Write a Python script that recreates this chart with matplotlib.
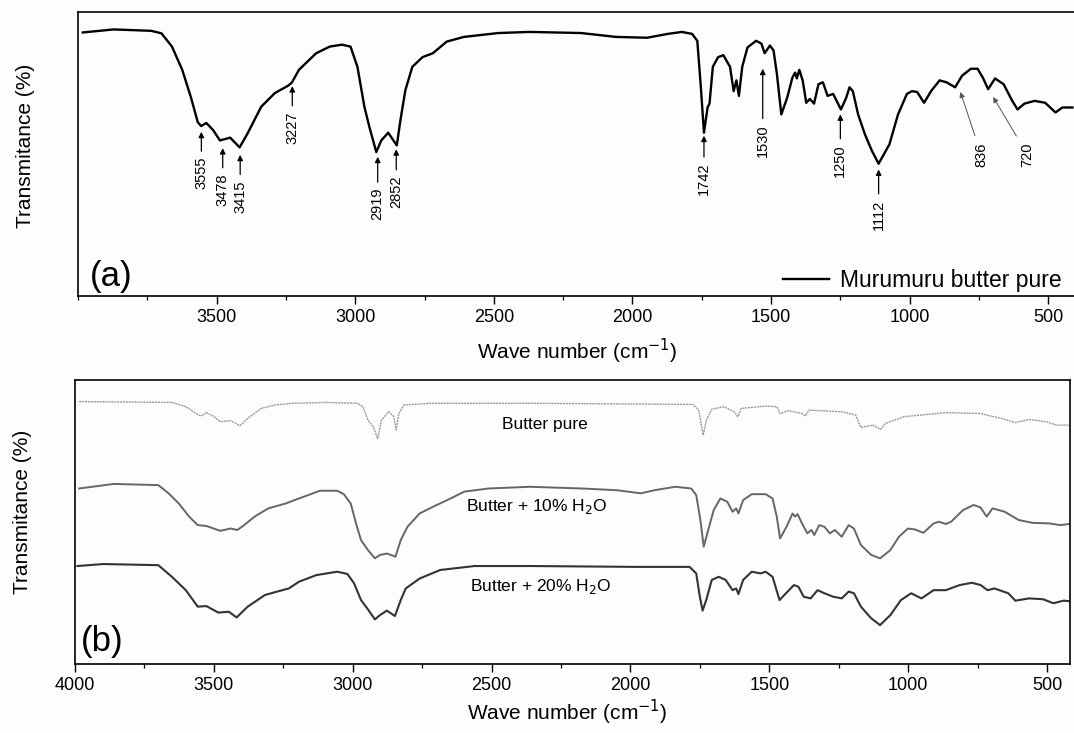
import numpy as np
import matplotlib.pyplot as plt
from matplotlib.ticker import MultipleLocator, FixedLocator

plt.rcParams['font.family'] = ['Liberation Sans', 'DejaVu Sans']

# ---- panel (a): Murumuru butter pure ----
wn_a = [3983, 3872, 3736, 3699, 3661, 3624, 3593, 3568, 3556, 3537, 3513, 3488, 3451, 3417,
        3389, 3339, 3290, 3240, 3228, 3203, 3141, 3092, 3048, 3017, 2992, 2967, 2949, 2924,
        2906, 2881, 2850, 2837, 2819, 2794, 2757, 2720, 2670, 2608, 2484, 2372, 2185, 2060,
        1947, 1872, 1822, 1785, 1766, 1754, 1742, 1729, 1722, 1710, 1691, 1672, 1648, 1635,
        1625, 1616, 1604, 1585, 1554, 1535, 1523, 1504, 1491, 1479, 1463, 1442, 1423, 1413,
        1407, 1398, 1386, 1373, 1360, 1345, 1329, 1313, 1296, 1276, 1248, 1229, 1217, 1205,
        1186, 1161, 1136, 1112, 1073, 1042, 1010, 992, 973, 948, 923, 892, 867, 836, 811,
        779, 755, 736, 717, 692, 661, 630, 611, 586, 549, 511, 474, 449, 413]
T_a = [92.5, 93.6, 93.1, 92.2, 87.4, 79.0, 69.2, 60.1, 58.7, 59.8, 57.3, 53.5, 54.5, 51.0,
       55.9, 65.7, 70.6, 73.4, 74.5, 79.0, 85.0, 87.4, 88.1, 87.4, 80.1, 65.7, 58.4, 49.3,
       53.5, 56.3, 51.7, 60.8, 71.7, 80.1, 83.6, 85.0, 89.2, 90.9, 92.3, 92.7, 92.3, 90.9,
       90.6, 92.0, 92.7, 92.0, 89.5, 73.8, 56.3, 65.4, 66.8, 80.1, 83.6, 84.3, 80.1, 71.3,
       75.2, 69.6, 80.1, 87.1, 89.5, 88.5, 85.0, 87.8, 86.0, 77.6, 62.9, 68.9, 76.2, 78.0,
       75.9, 79.0, 75.2, 67.1, 68.5, 66.8, 73.8, 74.5, 69.6, 70.3, 64.7, 68.9, 72.7, 71.3,
       62.9, 55.6, 49.7, 45.1, 52.1, 62.9, 70.3, 71.3, 71.0, 67.1, 71.3, 75.2, 74.5, 72.7, 76.9,
       79.4, 79.4, 76.2, 72.0, 75.9, 73.8, 67.8, 64.7, 66.8, 67.8, 67.1, 63.6, 65.4, 65.4]

# peak labels: (label, text x, text top, arrow tip x, arrow tip y)
peaks = [('3555', 3555, 47.6, 3555, 56.6), ('3478', 3478, 41.6, 3478, 50.7),
         ('3415', 3415, 39.2, 3415, 48.3), ('3227', 3227, 64.0, 3227, 73.1),
         ('2919', 2919, 36.4, 2919, 47.6), ('2852', 2852, 40.9, 2852, 50.3),
         ('1742', 1742, 45.5, 1742, 55.2), ('1530', 1530, 59.4, 1530, 79.4),
         ('1250', 1250, 52.1, 1250, 62.9), ('1112', 1112, 32.2, 1112, 43.0)]
peaks_diag = [('836', 742, 52.8, 817, 71.0), ('720', 575, 52.8, 699, 69.2)]

# ---- panel (b): pure, +10% and +20% water ----
wn_pure = [3985, 3651, 3601, 3564, 3546, 3527, 3502, 3478, 3440, 3406, 3378, 3329, 3280, 3217,
           3094, 2982, 2963, 2945, 2926, 2910, 2896, 2871, 2852, 2843, 2834, 2815, 2722, 2362,
           1775, 1754, 1738, 1726, 1707, 1663, 1626, 1613, 1601, 1513, 1473, 1461, 1432, 1382,
           1370, 1357, 1239, 1189, 1170, 1126, 1099, 1082, 1014, 864, 739, 702, 664, 614, 564,
           502, 465, 405]
T_pure = [92.4, 92.1, 90.6, 88.2, 87.3, 88.5, 87.3, 85.3, 85.7, 83.9, 86.5, 90.0, 91.2, 91.8,
          92.1, 91.8, 90.6, 85.9, 83.5, 79.4, 85.9, 88.8, 87.1, 82.4, 88.2, 91.2, 91.8, 91.8,
          91.4, 89.4, 80.6, 85.9, 89.7, 90.6, 88.8, 87.1, 90.0, 90.8, 90.6, 88.2, 89.2, 88.2,
          87.3, 89.4, 88.8, 87.7, 83.3, 84.1, 82.6, 84.7, 87.1, 88.5, 88.2, 87.3, 86.5, 85.0, 86.1,
          85.3, 84.1, 84.1]

wn_10 = [3985, 3861, 3700, 3663, 3626, 3589, 3558, 3527, 3477, 3440, 3415, 3391, 3353, 3304,
         3242, 3193, 3118, 3056, 3032, 3007, 2988, 2970, 2945, 2920, 2902, 2877, 2846, 2827,
         2803, 2759, 2710, 2660, 2598, 2511, 2362, 2175, 2050, 1962, 1913, 1838, 1781, 1763,
         1748, 1736, 1723, 1700, 1676, 1651, 1632, 1619, 1611, 1594, 1563, 1513, 1488, 1473,
         1461, 1438, 1416, 1407, 1398, 1382, 1363, 1348, 1338, 1320, 1301, 1282, 1264, 1239,
         1214, 1195, 1170, 1133, 1101, 1064, 1033, 1001, 976, 945, 908, 889, 864, 845, 802,
         764, 739, 717, 696, 652, 602, 552, 490, 452, 405]
T_10 = [61.8, 63.4, 63.0, 60.1, 56.5, 51.9, 48.9, 48.6, 46.9, 47.7, 47.2, 48.9, 51.9, 54.8,
        56.5, 58.3, 61.0, 61.0, 59.8, 56.5, 49.5, 43.6, 40.1, 37.2, 38.4, 38.9, 37.8, 43.6,
        48.3, 53.0, 55.4, 57.7, 60.7, 61.8, 62.4, 61.8, 61.2, 60.1, 61.2, 62.4, 61.8, 59.5,
        50.7, 41.3, 46.0, 54.2, 58.3, 57.1, 53.6, 54.8, 53.0, 57.7, 59.8, 59.8, 58.3, 51.9,
        44.2, 48.3, 53.0, 51.9, 52.8, 49.5, 46.0, 47.2, 45.4, 48.9, 48.3, 46.0, 47.2, 44.8,
        48.9, 47.7, 41.9, 38.4, 37.2, 40.1, 44.8, 47.7, 47.4, 46.2, 49.5, 50.1, 49.3, 50.1, 54.2,
        56.0, 55.1, 51.9, 54.8, 53.6, 50.7, 49.7, 49.5, 48.9, 49.5]

wn_20 = [3991, 3898, 3700, 3651, 3601, 3558, 3527, 3484, 3446, 3418, 3378, 3316, 3242, 3230,
         3193, 3131, 3056, 3019, 2995, 2970, 2945, 2920, 2902, 2877, 2848, 2827, 2809, 2759,
         2685, 2561, 2362, 1988, 1787, 1763, 1750, 1740, 1727, 1707, 1682, 1657, 1632, 1619,
         1611, 1594, 1563, 1531, 1513, 1488, 1463, 1438, 1411, 1395, 1376, 1351, 1326, 1301,
         1270, 1239, 1214, 1195, 1170, 1133, 1101, 1064, 1026, 989, 952, 908, 864, 814, 770,
         739, 714, 689, 639, 614, 564, 514, 477, 440, 405]
T_20 = [34.5, 35.2, 34.8, 30.7, 26.0, 20.2, 20.4, 18.1, 18.4, 16.4, 20.2, 24.3, 26.3, 26.6,
        29.0, 31.3, 32.5, 31.7, 28.4, 22.5, 19.2, 15.7, 17.2, 18.8, 16.9, 22.5, 26.6, 30.1,
        33.1, 34.5, 34.5, 34.2, 34.2, 31.9, 23.7, 18.8, 22.5, 29.6, 30.7, 29.6, 26.0, 26.6,
        24.6, 29.6, 32.5, 31.9, 32.5, 30.7, 22.5, 25.1, 27.8, 27.2, 23.7, 23.1, 26.0, 24.9,
        23.7, 23.1, 25.5, 24.9, 20.2, 16.1, 13.7, 17.2, 22.5, 24.9, 23.1, 26.0, 26.0, 27.8, 28.6,
        27.8, 26.0, 26.6, 24.9, 22.3, 23.1, 22.8, 21.4, 22.3, 22.0]

W, H = 1074, 733
fig = plt.figure(figsize=(W / 100, H / 100), dpi=100)
fig.patch.set_facecolor('#fdfdfd')


def px(x, y):
    # pixel position (from top-left) -> figure fraction
    return x / W, 1 - y / H


def style_axis(ax, first_major):
    ax.xaxis.set_major_locator(FixedLocator(np.arange(first_major, 499, -500)))
    ax.xaxis.set_minor_locator(MultipleLocator(250))
    ax.tick_params(axis='x', which='major', direction='out', length=5.5, width=1.0,
                   labelsize=13, pad=4, top=False)
    ax.tick_params(axis='x', which='minor', direction='out', length=3, width=0.9, top=False)
    ax.set_yticks([])
    for s in ax.spines.values():
        s.set_linewidth(1.2)
    ax.set_facecolor('none')


# panel (a)
ax1 = fig.add_axes([78 / W, 437 / H, 998 / W, 284 / H])
ax1.plot(wn_a, T_a, color='k', lw=1.7, label='Murumuru butter pure')
ax1.set_xlim(4000, 400)
ax1.set_ylim(-2.7, 99.9)
style_axis(ax1, 3500)
for lab, xt, yt, xp, yp in peaks:
    ax1.annotate(lab, xy=(xp, yp), xytext=(xt, yt), rotation=90, ha='center', va='top',
                 fontsize=10.5,
                 arrowprops=dict(arrowstyle='-|>', color='k', lw=0.9, shrinkA=2, shrinkB=0,
                                 mutation_scale=8))
for lab, xt, yt, xp, yp in peaks_diag:
    ax1.annotate(lab, xy=(xp, yp), xytext=(xt, yt), rotation=90, ha='center', va='top',
                 fontsize=10.5,
                 arrowprops=dict(arrowstyle='-|>', color='#555555', lw=0.7, shrinkA=3, shrinkB=0,
                                 mutation_scale=8))
fig.text(*px(90, 277), '(a)', fontsize=25, va='center', ha='left')
ax1.legend(loc='center right', bbox_to_anchor=px(1062, 281), bbox_transform=fig.transFigure,
           frameon=False, fontsize=16.5, handlelength=2.0, handletextpad=0.5, borderaxespad=0,
           borderpad=0)

# panel (b)
ax2 = fig.add_axes([75 / W, 69 / H, 995 / W, 284 / H])
ax2.plot(wn_pure, T_pure, color='#9a9a9a', lw=1.0, ls=(0, (1.5, 0.6)))
ax2.plot(wn_10, T_10, color='#666666', lw=1.4)
ax2.plot(wn_20, T_20, color='#333333', lw=1.5)
ax2.set_xlim(4000, 417)
ax2.set_ylim(0, 100)
style_axis(ax2, 4000)
fig.text(*px(545, 425), 'Butter pure', fontsize=12.5, ha='center', va='center')
fig.text(*px(537, 507), 'Butter + 10% H$_2$O', fontsize=12.5, ha='center', va='center')
fig.text(*px(541, 587), 'Butter + 20% H$_2$O', fontsize=12.5, ha='center', va='center')
fig.text(*px(81, 641), '(b)', fontsize=25, va='center', ha='left')

# axis labels
fig.text(*px(26, 146), 'Transmitance (%)', rotation=90, fontsize=15, ha='center', va='center')
fig.text(*px(23, 512), 'Transmitance (%)', rotation=90, fontsize=15, ha='center', va='center')
fig.text(*px(577, 351), 'Wave number (cm$^{-1}$)', fontsize=15, ha='center', va='center')
fig.text(*px(567, 712), 'Wave number (cm$^{-1}$)', fontsize=15, ha='center', va='center')

fig.savefig('out.png', dpi=100, facecolor=fig.get_facecolor())
